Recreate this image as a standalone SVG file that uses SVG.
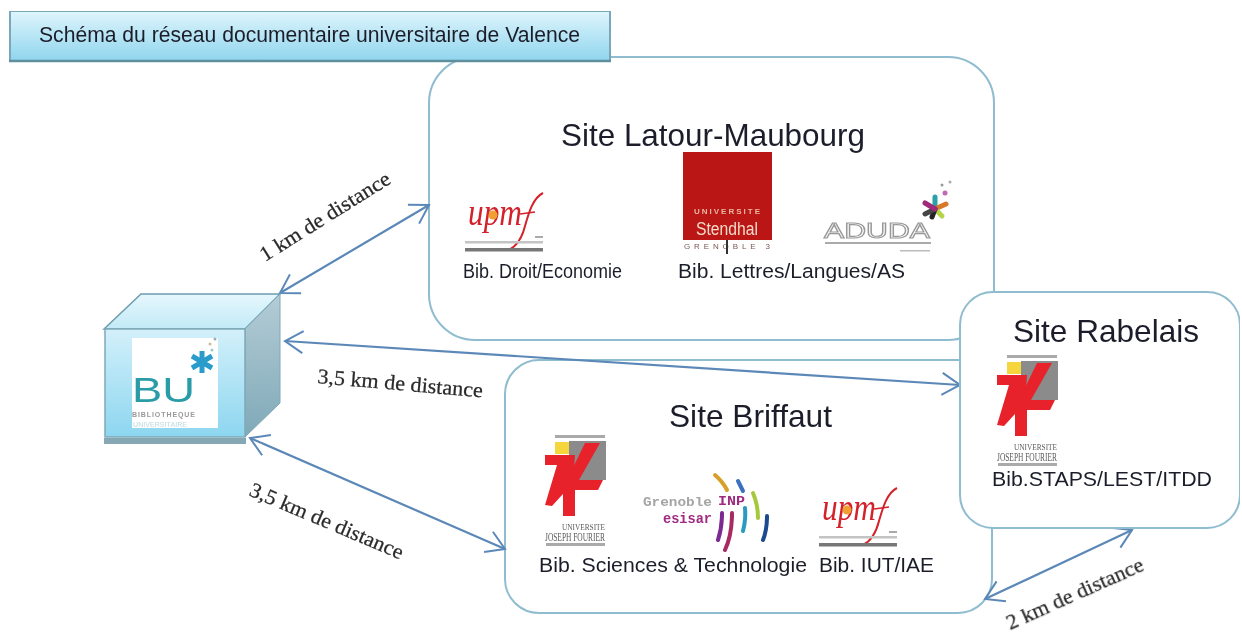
<svg xmlns="http://www.w3.org/2000/svg" xmlns:xlink="http://www.w3.org/1999/xlink" width="1242" height="635" viewBox="0 0 1242 635">
<style>
text{font-family:"Liberation Sans",Arial,sans-serif;fill:#1c1f2a}
.site{fill:#fff;stroke:#8fbccf;stroke-width:2}
.h{font-size:32px}
.b{font-size:20.5px}
.d{font-family:"Liberation Serif","DejaVu Serif",serif;font-size:21px;fill:#2a2a2a;stroke:#2a2a2a;stroke-width:.25}
.arr{fill:none;stroke:#5b88b8;stroke-width:2.2;marker-start:url(#a);marker-end:url(#a)}
.ser{font-family:"Liberation Serif",serif;fill:#5a5a5a}
.mono{font-family:"Liberation Mono",monospace;font-weight:bold}
</style>
<defs>
<filter id="soft" x="0" y="0" width="100%" height="100%"><feGaussianBlur stdDeviation="0.45"/></filter>
<marker id="a" markerUnits="userSpaceOnUse" viewBox="-24 -14 26 28" refX="0" refY="0" markerWidth="26" markerHeight="28" orient="auto-start-reverse"><path d="M-18-11L0 0L-18 11" fill="none" stroke="#5b88b8" stroke-width="2"/></marker>
<linearGradient id="tg" x1="0" y1="0" x2="0" y2="1"><stop offset="0" stop-color="#dff5fc"/><stop offset="1" stop-color="#8fd5ee"/></linearGradient>
<linearGradient id="fg" x1="0" y1="0" x2="0" y2="1"><stop offset="0" stop-color="#d3f0fa"/><stop offset="1" stop-color="#8dd6f0"/></linearGradient>
<linearGradient id="pg" x1="0" y1="0" x2="0" y2="1"><stop offset="0" stop-color="#e6f7fd"/><stop offset="1" stop-color="#c2eaf7"/></linearGradient>
<linearGradient id="sg" x1="0" y1="0" x2="0" y2="1"><stop offset="0" stop-color="#b4ccd6"/><stop offset="1" stop-color="#7fa9b8"/></linearGradient>
<g id="ujf">
<rect x="12" y="2" width="50" height="3" fill="#a9a9a9"/>
<rect x="12" y="9" width="14" height="12" fill="#f5d63c"/>
<rect x="26" y="8" width="37" height="39" fill="#8b8b8b"/>
<path d="M42 10L57 10L36 47L60 47L55 57L32 57L32 83L20 83L20 55Z" fill="#e8232a"/>
<path d="M2 22L32 22L30 50L9 73L2 72L14 32L2 32Z" fill="#e8232a"/>
<text x="19" y="97" font-size="9" class="ser" textLength="43" lengthAdjust="spacingAndGlyphs">UNIVERSITE</text>
<text x="2" y="108" font-size="12" class="ser" textLength="60" lengthAdjust="spacingAndGlyphs">JOSEPH FOURIER</text>
<rect x="3" y="110" width="59" height="3" fill="#aaa"/>
</g>
<g id="upmf">
<text x="3" y="33" font-size="38" font-style="italic" class="ser" style="fill:#d3202c" textLength="54" lengthAdjust="spacingAndGlyphs">upm</text>
<circle cx="28" cy="23" r="4.5" fill="#f0a030"/>
<path d="M78 1C68 6 64 20 60 34C57 46 52 54 44 58" fill="none" stroke="#d3202c" stroke-width="2"/>
<path d="M55 22L70 20" stroke="#d3202c" stroke-width="1.5"/>
<rect x="70" y="44" width="8" height="2" fill="#aaa"/>
<rect x="0" y="49" width="78" height="2.5" fill="#c4c4c4"/>
<rect x="0" y="56" width="78" height="3.5" fill="#777"/>
</g>
</defs>
<rect width="1242" height="635" fill="#fff"/>
<g filter="url(#soft)">

<g id="site-latour">
<rect class="site" x="429" y="57" width="565" height="283" rx="46"/>
<text class="h" x="561" y="146" textLength="304" lengthAdjust="spacingAndGlyphs">Site Latour-Maubourg</text>
<use xlink:href="#upmf" href="#upmf" x="465" y="192"/>
<text class="b" x="463" y="278" textLength="159" lengthAdjust="spacingAndGlyphs">Bib. Droit/Economie</text>
<g id="logo-stendhal">
<rect x="683" y="152" width="89" height="88" fill="#bb1416"/>
<text x="694" y="214" font-size="8" font-weight="bold" style="fill:#e8b8a0" textLength="66">UNIVERSITE</text>
<text x="696" y="235" font-size="18" style="fill:#f3dcc8" textLength="62" lengthAdjust="spacingAndGlyphs">Stendhal</text>
<text x="684" y="249" font-size="8" style="fill:#7a5a50" textLength="86">GRENOBLE 3</text>
<path d="M727 240V254" stroke="#333" stroke-width="2"/>
</g>
<text class="b" x="678" y="278" textLength="227" lengthAdjust="spacingAndGlyphs">Bib. Lettres/Langues/AS</text>
<g id="logo-aduda">
<text x="824" y="238" font-size="22" style="fill:#fff;stroke:#999;stroke-width:1.1" textLength="106" lengthAdjust="spacingAndGlyphs">ADUDA</text>
<rect x="825" y="242" width="106" height="2" fill="#aaa"/>
<rect x="900" y="250" width="30" height="1.5" fill="#bbb"/>
<g stroke-width="5" stroke-linecap="round">
<path d="M935 209V197" stroke="#2aa3a8"/>
<path d="M935 209L946 204" stroke="#d8792a"/>
<path d="M935 209L942 216" stroke="#b6d44a"/>
<path d="M935 209L932 217" stroke="#222"/>
<path d="M935 209L925 214" stroke="#444"/>
<path d="M935 209L925 203" stroke="#a02a7a"/>
</g>
<circle cx="945" cy="193" r="2.5" fill="#c06ab0"/><circle cx="942" cy="185" r="1.5" fill="#999"/><circle cx="950" cy="182" r="1.5" fill="#aaa"/>
</g>
</g>

<g id="site-briffaut">
<rect class="site" x="505" y="360" width="487" height="253" rx="34"/>
<text class="h" x="669" y="427" textLength="163" lengthAdjust="spacingAndGlyphs">Site Briffaut</text>
<use xlink:href="#ujf" href="#ujf" x="543" y="433"/>
<g id="logo-esisar">
<text x="643" y="506" font-size="13" class="mono" style="fill:#a5a5a5" textLength="69" lengthAdjust="spacingAndGlyphs">Grenoble</text>
<text x="718" y="505" font-size="13" class="mono" style="fill:#a02a80" textLength="27" lengthAdjust="spacingAndGlyphs">INP</text>
<text x="663" y="523" font-size="15" class="mono" style="fill:#a02a80" textLength="49" lengthAdjust="spacingAndGlyphs">esisar</text>
<g fill="none" stroke-width="4" stroke-linecap="round">
<path d="M715 475Q723 482 727 490" stroke="#d8a02a"/>
<path d="M738 481L743 491" stroke="#3a70c0"/>
<path d="M753 493Q758 505 758 518" stroke="#a8c83a"/>
<path d="M767 516Q767 530 763 540" stroke="#1a4a90"/>
<path d="M745 508Q746 520 743 531" stroke="#2a9ac0"/>
<path d="M722 513Q722 528 718 540" stroke="#7a2a90"/>
<path d="M732 513Q732 535 725 550" stroke="#a82a60"/>
</g>
</g>
<use xlink:href="#upmf" href="#upmf" x="819" y="487"/>
<text class="b" x="539" y="572" textLength="268" lengthAdjust="spacingAndGlyphs">Bib. Sciences &amp; Technologie</text>
<text class="b" x="819" y="572" textLength="115" lengthAdjust="spacingAndGlyphs">Bib. IUT/IAE</text>
</g>

<g id="connectors">
<line class="arr" x1="280" y1="293" x2="429" y2="205"/>
<line class="arr" x1="285" y1="341" x2="960" y2="385"/>
<line class="arr" x1="250" y1="438" x2="505" y2="549"/>
<line class="arr" x1="985" y1="599" x2="1132" y2="530"/>
</g>

<g id="site-rabelais">
<rect class="site" x="960" y="292" width="280" height="236" rx="33"/>
<text class="h" x="1013" y="342" textLength="186" lengthAdjust="spacingAndGlyphs">Site Rabelais</text>
<use xlink:href="#ujf" href="#ujf" x="995" y="353"/>
<text class="b" x="992" y="486" textLength="220" lengthAdjust="spacingAndGlyphs">Bib.STAPS/LEST/ITDD</text>
</g>

<g id="title">
<rect x="10" y="11" width="600" height="50" fill="url(#tg)" stroke="#7aa8b8" stroke-width="2"/>
<path d="M9 61H611" stroke="#5e8e9e" stroke-width="2.5"/>
<text x="39" y="42" font-size="21.5" textLength="541" lengthAdjust="spacingAndGlyphs">Schéma du réseau documentaire universitaire de Valence</text>
</g>

<g id="bu">
<path d="M104 329L141 294H280L245 329Z" fill="url(#pg)" stroke="#6c9cae" stroke-width="1.5"/>
<path d="M245 329L280 294V403L245 437Z" fill="url(#sg)" stroke="#7fa9b8"/>
<rect x="105" y="329" width="140" height="108" fill="url(#fg)" stroke="#7fa9b8" stroke-width="1.5"/>
<rect x="104" y="438" width="142" height="6" fill="#86a8b4"/>
<rect x="132" y="338" width="86" height="90" fill="#fff"/>
<text x="132" y="402" font-size="35" style="fill:#2a9ca8" textLength="63" lengthAdjust="spacingAndGlyphs">BU</text>
<path d="M202 351V373M192 356L212 368M192 368L212 356" stroke="#2a9ccc" stroke-width="5"/>
<circle cx="215" cy="339" r="1.5" fill="#9ab"/><circle cx="210" cy="344" r="1.5" fill="#cb9"/><circle cx="212" cy="350" r="1.5" fill="#9cc"/>
<text x="132" y="417" font-size="7" font-weight="bold" style="fill:#999" textLength="63">BIBLIOTHEQUE</text>
<text x="133" y="427" font-size="7" style="fill:#bcd8de" textLength="54">UNIVERSITAIRE</text>
</g>

<g id="labels">
<text class="d" transform="translate(265 262) rotate(-32)" textLength="150" lengthAdjust="spacingAndGlyphs">1 km de distance</text>
<text class="d" transform="translate(317 383) rotate(5)" textLength="166" lengthAdjust="spacingAndGlyphs">3,5 km de distance</text>
<text class="d" transform="translate(248 495) rotate(23)" textLength="165" lengthAdjust="spacingAndGlyphs">3,5 km de distance</text>
<text class="d" transform="translate(1010 630) rotate(-24)" textLength="148" lengthAdjust="spacingAndGlyphs">2 km de distance</text>
</g>
</g>
</svg>
